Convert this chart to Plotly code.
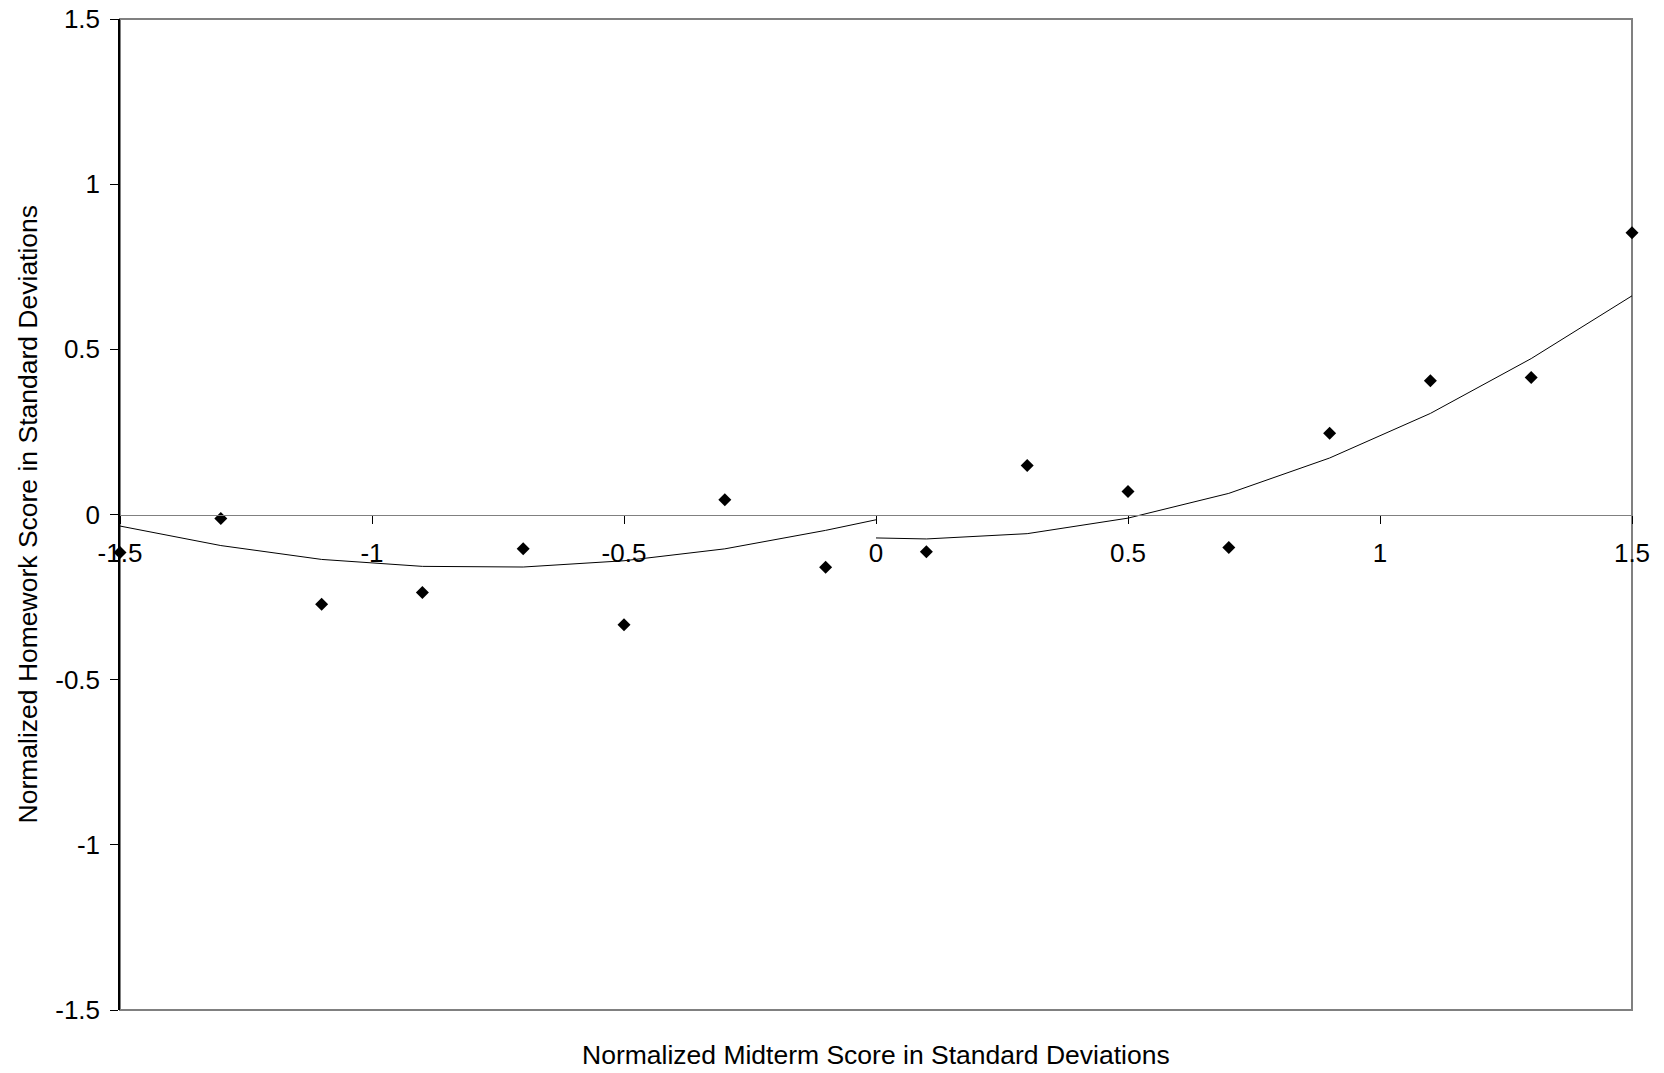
import plotly.graph_objects as go

# Scatter data (normalized midterm vs homework scores)
midterm_x = [-1.5, -1.3, -1.1, -0.9, -0.7, -0.5, -0.3, -0.1, 0.1, 0.3, 0.5, 0.7, 0.9, 1.1, 1.3, 1.5]
homework_y = [-0.115, -0.012, -0.272, -0.236, -0.104, -0.334, 0.045, -0.160, -0.113, 0.148, 0.070, -0.100, 0.246, 0.405, 0.415, 0.853]

# Fitted curve, left of zero
fit_left_x = [-1.5, -1.3, -1.1, -0.9, -0.7, -0.5, -0.3, -0.1, 0.0]
fit_left_y = [-0.035, -0.094, -0.136, -0.157, -0.159, -0.140, -0.104, -0.048, -0.016]
# Fitted curve, right of zero
fit_right_x = [0.0, 0.1, 0.3, 0.5, 0.7, 0.9, 1.1, 1.3, 1.5]
fit_right_y = [-0.071, -0.074, -0.058, -0.011, 0.064, 0.171, 0.306, 0.472, 0.662]

tick_vals = [-1.5, -1.0, -0.5, 0.0, 0.5, 1.0, 1.5]
tick_text = ["-1.5", "-1", "-0.5", "0", "0.5", "1", "1.5"]

x_title = "Normalized Midterm Score in Standard Deviations"
y_title = "Normalized Homework Score in Standard Deviations"

FONT = "Liberation Sans, Arial, sans-serif"
TICK_SIZE = 26
TITLE_SIZE = 26.5

fig = go.Figure()
fig.add_trace(go.Scatter(x=fit_left_x, y=fit_left_y, mode="lines",
                         line=dict(color="black", width=1), showlegend=False))
fig.add_trace(go.Scatter(x=fit_right_x, y=fit_right_y, mode="lines",
                         line=dict(color="black", width=1), showlegend=False))
fig.add_trace(go.Scatter(x=midterm_x, y=homework_y, mode="markers",
                         marker=dict(symbol="diamond", size=10, color="black",
                                     line=dict(width=0)),
                         cliponaxis=False, showlegend=False))

fig.update_layout(
    width=1664, height=1073,
    margin=dict(l=120, r=32, t=19, b=63),
    paper_bgcolor="white", plot_bgcolor="white",
    font=dict(family=FONT, size=TICK_SIZE, color="black"),
    xaxis=dict(range=[-1.5, 1.5], tickvals=tick_vals, ticktext=tick_text,
               anchor="free", position=0.5, side="bottom", automargin=False,
               showline=True, linecolor="#808080", linewidth=1,
               ticks="outside", ticklen=8, tickcolor="black", tickwidth=1,
               ticklabelstandoff=7,
               showgrid=False, zeroline=False,
               tickfont=dict(family=FONT, size=TICK_SIZE, color="black")),
    yaxis=dict(range=[-1.5, 1.5], tickvals=tick_vals, ticktext=tick_text,
               automargin=False,
               showline=True, linecolor="black", linewidth=1.5,
               ticks="outside", ticklen=8, tickcolor="black", tickwidth=1,
               ticklabelstandoff=5,
               showgrid=False, zeroline=False,
               tickfont=dict(family=FONT, size=TICK_SIZE, color="black")),
    shapes=[dict(type="rect", xref="paper", yref="paper", x0=0, x1=1, y0=0, y1=1,
                 line=dict(color="#808080", width=2), layer="below")],
    annotations=[
        dict(text=x_title, xref="paper", yref="paper", x=0.5, y=0,
             xanchor="center", yanchor="middle", yshift=-45, showarrow=False,
             font=dict(family=FONT, size=TITLE_SIZE, color="black")),
        dict(text=y_title, xref="paper", yref="paper", x=0, y=0.5,
             xanchor="center", yanchor="middle", xshift=-93, textangle=-90,
             showarrow=False, font=dict(family=FONT, size=TITLE_SIZE, color="black")),
    ],
)

fig.write_html("out.html")
